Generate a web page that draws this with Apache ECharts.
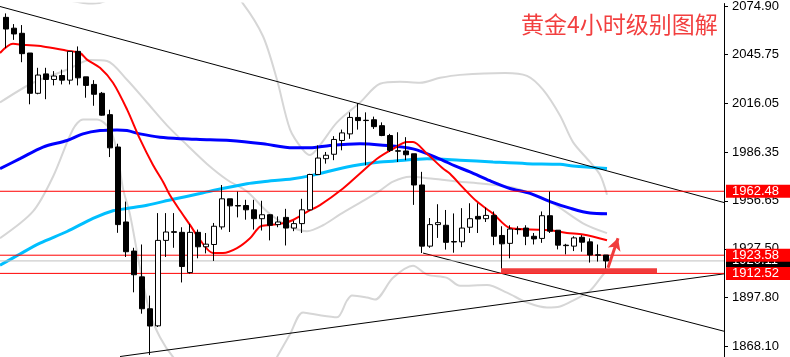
<!DOCTYPE html>
<html><head><meta charset="utf-8">
<script src="https://cdn.jsdelivr.net/npm/echarts@6/dist/echarts.min.js"></script>
<style>html,body{margin:0;padding:0;background:#fff}#c{width:790px;height:357px}</style>
</head><body><div id="c"></div><script>
// ---- candle data (4h gold), one entry per bar, oldest first ----
const opens  = [2068.3,2061.7,2058.6,2046.6,2022.1,2033.9,2030.5,2032.9,2030.1,2047.6,2032.1,2027.5,2022.1,2009.1,1989.4,1943.8,1926.1,1910.4,1891.0,1880.6,1932.6,1937.9,1937.5,1913.0,1937.5,1928.7,1930.1,1940.8,1957.9,1953.8,1953.8,1951.2,1945.8,1948.2,1942.2,1946.6,1940.1,1942.8,1951.2,1972.7,1982.3,1985.0,1993.4,1997.4,2007.4,2005.7,2006.0,2002.4,1996.4,1987.1,1987.0,1985.3,1966.3,1929.1,1942.2,1941.8,1931.9,1931.7,1940.6,1947.2,1945.8,1947.8,1935.6,1930.8,1939.5,1940.1,1935.1,1933.8,1947.6,1938.8,1929.7,1929.1,1934.5,1931.7,1923.8,1923.7];
const highs  = [2070.7,2064.2,2063.6,2046.6,2037.6,2037.6,2035.6,2036.5,2047.6,2050.6,2032.1,2030.1,2022.9,2012.1,1991.4,1956.2,1928.1,1930.1,1899.0,1949.2,1949.2,1949.2,1940.6,1942.6,1939.2,1937.1,1943.2,1966.3,1957.9,1962.3,1957.3,1957.3,1956.7,1948.6,1947.2,1951.8,1944.6,1957.9,1973.1,1990.4,1986.4,1996.0,2000.0,2010.5,2016.1,2010.5,2007.9,2004.4,1997.4,1998.4,1995.4,1985.3,1974.3,1946.2,1954.6,1951.1,1949.0,1952.2,1955.2,1955.2,1952.6,1950.2,1941.2,1941.8,1941.2,1941.8,1937.1,1950.2,1962.3,1938.8,1930.5,1935.1,1935.8,1933.8,1930.1,1923.7];
const lows   = [2049.6,2054.6,2041.0,2015.4,2021.5,2018.5,2026.9,2027.5,2027.5,2026.9,2019.4,2014.5,2008.5,1983.3,1937.2,1922.5,1901.0,1888.0,1862.9,1879.9,1922.5,1928.1,1907.0,1912.4,1921.7,1924.7,1920.1,1939.2,1937.7,1946.6,1945.2,1939.2,1938.6,1932.6,1940.6,1929.5,1938.2,1937.1,1950.8,1972.7,1979.3,1981.4,1987.4,1994.4,2000.0,1978.3,2000.4,1996.0,1986.4,1980.3,1981.4,1954.2,1924.9,1928.1,1934.1,1927.0,1925.1,1928.5,1937.1,1937.1,1943.8,1929.7,1914.1,1921.7,1936.2,1929.7,1930.1,1931.1,1937.1,1927.1,1924.1,1926.1,1925.7,1919.1,1919.7,1915.1];
const closes = [2061.2,2058.2,2046.2,2022.1,2033.2,2030.5,2032.6,2030.1,2047.6,2031.5,2026.9,2021.5,2008.8,1988.9,1942.2,1925.7,1911.7,1891.0,1880.5,1932.6,1937.7,1937.5,1916.7,1937.5,1928.7,1930.3,1941.2,1957.9,1953.6,1953.5,1951.2,1945.8,1948.2,1941.8,1943.8,1940.1,1942.8,1951.2,1972.7,1982.7,1984.4,1994.0,1998.0,2007.4,2005.5,2005.5,2001.8,1996.4,1987.4,1986.9,1984.7,1966.3,1929.1,1942.2,1943.4,1931.4,1931.6,1940.1,1945.8,1945.6,1947.8,1935.1,1930.5,1939.5,1939.2,1935.1,1933.5,1947.6,1938.2,1929.7,1929.4,1934.1,1931.5,1923.7,1923.6,1920.1];

// ---- indicator lines as [bar index, price] ----
const redMA = [[-0.75,2046.6],[0.875,2052.2],[2.125,2051.6],[4.625,2050.6],[7.625,2048.0],[9.25,2046.6],[10.125,2042.6],[11.75,2037.6],[13.375,2028.5],[15.125,2012.3],[16.75,1994.2],[18.375,1978.5],[19.625,1968.3],[20.5,1960.0],[21.75,1950.8],[23,1942.0],[24.25,1932.9],[25.875,1924.9],[27.125,1924.9],[28.875,1927.9],[30.5,1933.9],[31.75,1941.0],[33,1942.0],[34.625,1943.0],[35.875,1945.0],[37.625,1950.0],[39.25,1954.1],[42.125,1964.2],[44.25,1973.3],[46.375,1982.3],[48.375,1988.3],[50.125,1992.4],[50.875,1992.4],[52.625,1985.3],[54.625,1976.3],[55.5,1973.1],[57.125,1964.7],[58.875,1956.2],[60.875,1948.9],[63,1940.1],[65.5,1939.2],[68,1938.8],[70.125,1937.1],[72.125,1936.2],[75.125,1932.7]];
const blueMA = [[-0.75,1976.3],[1.75,1982.3],[4.625,1989.4],[7.625,1993.4],[9.625,1997.4],[11.75,1999.4],[13.875,1999.8],[15.125,1999.4],[16.75,1997.4],[19.25,1995.4],[22.125,1994.4],[24.25,1994.0],[28,1993.4],[32.125,1991.4],[35.875,1988.9],[38,1988.9],[40.5,1990.4],[44.25,1991.4],[46.75,1990.7],[50.875,1988.3],[54.25,1982.1],[56.125,1977.9],[58,1974.3],[60.5,1968.9],[63,1964.2],[65.5,1961.2],[68,1956.2],[70.5,1952.2],[73,1949.2],[75.125,1948.8]];
const cyanMA = [[-0.75,1917.5],[1.75,1924.3],[4.25,1930.9],[7.625,1938.0],[10.875,1946.0],[13.375,1950.6],[15.125,1952.0],[17.625,1954.0],[20.875,1957.6],[24.25,1961.1],[25.875,1963.0],[30.125,1967.1],[32.125,1968.3],[35.875,1970.1],[38.375,1972.3],[42.625,1977.3],[46.75,1980.3],[48.375,1980.8],[52.625,1982.3],[56.75,1981.4],[60.875,1980.3],[65.125,1979.3],[69.25,1978.9],[70.875,1977.9],[75.125,1976.3]];
const bandMid = [[-0.75,2016.5],[3.375,2028.5],[7.625,2036.4],[10.5,2042.4],[12.625,2041.8],[15.125,2030.3],[17.625,2016.5],[20.125,2002.6],[22.625,1990.6],[25.125,1979.1],[27.625,1969.5],[30.125,1962.3],[32.625,1950.2],[35.125,1941.8],[37.625,1938.2],[39.625,1941.8],[41.75,1948.4],[45.125,1958.0],[46.75,1962.9],[48.375,1968.3],[50.5,1971.3],[53.375,1970.1],[56.75,1968.3],[59.625,1967.1],[63.875,1964.1],[68,1956.2],[72.125,1943.0],[75.125,1937.0]];
const bandUpper = [[-0.75,2091.8],[4.25,2083.9],[8,2078.5],[10.875,2076.7],[13,2079.7],[16.75,2094.8],[21.75,2100.8],[26.75,2091.8],[29.625,2076.7],[32.125,2056.8],[33.875,2030.3],[35.5,2000.2],[37.125,1987.6],[38,1984.5],[39.25,1990.6],[41.375,2004.4],[44.25,2016.5],[46.75,2027.9],[49.25,2029.1],[51.75,2028.5],[54.25,2031.5],[56.75,2033.3],[62.375,2034.5],[65.125,2032.7],[67.125,2024.3],[69.25,2008.6],[70.875,1992.4],[73,1980.3],[74.25,1972.5],[75.125,1960.4]];
const bandLower = [[-0.75,1933.9],[3.375,1950.2],[5.875,1971.3],[8.375,2000.2],[9.625,2006.2],[11.375,2006.2],[13,2000.2],[13.875,1986.4],[14.625,1964.1],[15.5,1948.4],[16.75,1915.9],[18,1888.2],[19.25,1873.7],[20.875,1861.7],[24.25,1844.8],[29.25,1838.8],[32.375,1850.8],[33.875,1861.7],[35.5,1875.5],[37.125,1888.8],[39.25,1887.0],[41.375,1885.8],[42.625,1896.0],[43.25,1899.0],[45.125,1897.8],[46.125,1896.6],[48.375,1909.8],[50.875,1917.1],[52.625,1911.8],[55.125,1909.8],[56.75,1905.0],[60.125,1905.4],[62.625,1900.8],[65.125,1894.8],[67.625,1891.8],[69.25,1892.4],[70.875,1896.0],[73,1902.0],[74.625,1911.7],[75.125,1914.1]];

// ---- drawn objects ----
const trendUpper = [[-0.75,2074.90],[89.75,1955.63]];
const trendRising = [[14.25,1861.94],[89.75,1912.25]];
const trendLower = [[52.125,1924.9],[89.75,1877.32]];
const supportBar = [[61.875,1914.2],[81.375,1914.2]];
const arrowFrom = [75.25,1915.9];
const arrowTo = [76.5,1933.9];
const levelLines = [1962.48, 1923.58, 1912.52];
const lastPrice = 1920.11;
const xSpan = [-0.75, 89.75];
const yTicks = [2074.90, 2045.75, 2016.05, 1986.35, 1956.65, 1927.50, 1897.80, 1868.10];
const titleText = '黄金4小时级别图解';

const candleData = opens.map((o, i) => [i, o, closes[i], lows[i], highs[i]]);

const chart = echarts.init(document.getElementById('c'), null, {renderer: 'canvas'});
const lineS = (data, color, width, z) => ({
  type: 'line', data, showSymbol: false, symbol: 'none', smooth: 0.3, silent: true, z,
  color, lineStyle: {color, width}, emphasis: {disabled: true}
});
const straight = (data, color, width, z) => ({
  type: 'line', data, showSymbol: false, symbol: 'none', silent: true, z,
  color, lineStyle: {color, width}, emphasis: {disabled: true}
});
const levelSeries = (v, lineColor, bg, z) => ({
  type: 'line', data: [[xSpan[0], v], [xSpan[1], v]], showSymbol: false, symbol: 'none',
  silent: true, z, color: lineColor, lineStyle: {color: lineColor, width: 1}, emphasis: {disabled: true},
  endLabel: {
    show: true, distance: 2, formatter: () => v.toFixed(2),
    color: '#fff', backgroundColor: bg, fontSize: 13, fontFamily: 'Liberation Sans',
    lineHeight: 12, padding: [1, 14, 0, 6]
  }
});
chart.setOption({
  animation: false,
  backgroundColor: '#ffffff',
  title: {
    text: titleText, left: 516, top: 8,
    textStyle: {color: '#f23f3f', fontSize: 23, fontWeight: 'normal', fontFamily: 'Noto Sans CJK SC'}
  },
  grid: {left: 0, right: 66, top: 0, bottom: 0, containLabel: false},
  xAxis: {type: 'value', min: xSpan[0], max: xSpan[1], show: false, splitLine: {show: false},
    axisLine: {show: false, onZero: false}},
  yAxis: {
    type: 'value', position: 'right', min: 1861.65, max: 2076.707, scale: true,
    splitLine: {show: false},
    axisLine: {show: true, onZero: false, lineStyle: {color: '#000', width: 1}},
    axisTick: {show: true, inside: false, length: 4, customValues: yTicks, lineStyle: {color: '#000'}},
    axisLabel: {
      show: true, customValues: yTicks, color: '#000', fontSize: 13, fontFamily: 'Liberation Sans',
      margin: 8, formatter: (v) => v.toFixed(2)
    }
  },
  series: [
    lineS(bandUpper, '#d6d6d6', 2, 1),
    lineS(bandMid, '#d6d6d6', 2, 1),
    lineS(bandLower, '#d6d6d6', 2, 1),
    lineS(cyanMA, '#00bfff', 3, 2),
    lineS(blueMA, '#0000ff', 3, 2),
    lineS(redMA, '#ff0000', 2, 2),
    straight(trendUpper, '#000', 1, 3),
    straight(trendRising, '#000', 1, 3),
    straight(trendLower, '#000', 1, 3),
    levelSeries(lastPrice, '#c0c0c0', '#000', 3),
    ...levelLines.map(v => levelSeries(v, '#ff0000', '#ff0000', 4)),
    {
      type: 'candlestick', data: candleData, z: 5, silent: true, barWidth: 5,
      encode: {x: 0, y: [1, 2, 3, 4]},
      itemStyle: {color: '#ffffff', color0: '#000000', borderColor: '#000000', borderColor0: '#000000', borderColorDoji: '#000000', borderWidth: 1}
    },
    straight(supportBar, '#f03c3c', 5, 6),
    {
      type: 'line', data: [], silent: true, z: 6, color: '#f03c3c',
      markLine: {
        silent: true, animation: false, symbol: ['none', 'arrow'], symbolSize: [10, 12],
        lineStyle: {color: '#f03c3c', width: 3, type: 'solid'},
        label: {show: false},
        data: [[{coord: arrowFrom}, {coord: arrowTo}]]
      }
    }
  ]
});
</script></body></html>
